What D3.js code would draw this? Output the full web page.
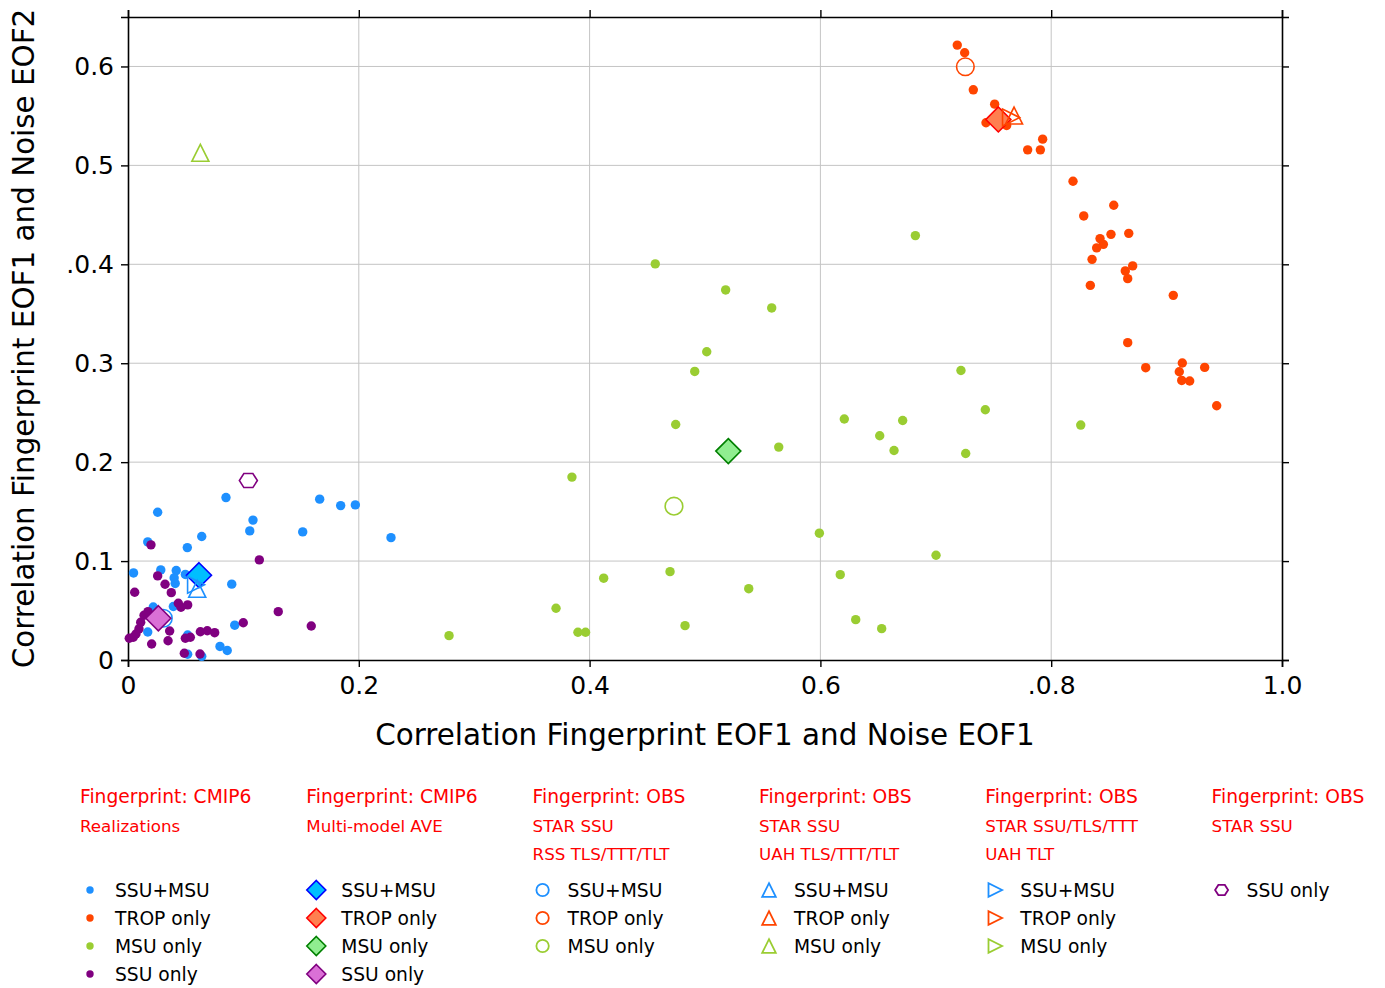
<!DOCTYPE html>
<html>
<head>
<meta charset="utf-8">
<script src="https://cdn.jsdelivr.net/npm/d3@7"></script>
<style>
  html, body { margin: 0; padding: 0; background: #fff; }
  svg { display: block; font-family: "DejaVu Sans", sans-serif; }
</style>
</head>
<body>
<svg id="chart" width="1385" height="988"></svg>
<script>
// ---- data: [x = corr(fingerprint EOF1, noise EOF1), y = corr(fingerprint EOF1, noise EOF2)] ----
const realSsuMsu = [
  [0.0849,0.1642],[0.0257,0.1494],[0.1661,0.1626],[0.1843,0.1561],[0.1970,0.1568],
  [0.1083,0.1414],[0.1055,0.1305],[0.1514,0.1295],[0.2279,0.1237],[0.0639,0.1248],
  [0.0171,0.1194],[0.0514,0.1136],[0.0048,0.0880],[0.0284,0.0911],[0.0418,0.0904],
  [0.0400,0.0830],[0.0409,0.0774],[0.0497,0.0865],[0.0899,0.0767],[0.0393,0.0541],
  [0.0219,0.0536],[0.0171,0.0283],[0.0925,0.0352],[0.0517,0.0253],[0.0797,0.0137],
  [0.0860,0.0096],[0.0517,0.0058],[0.0639,0.0037]
];
const realTrop = [
  [0.7186,0.6216],[0.7250,0.6139],[0.7325,0.5764],[0.7510,0.5619],[0.7435,0.5431],
  [0.7614,0.5403],[0.7926,0.5265],[0.7796,0.5157],[0.7906,0.5157],[0.8189,0.4840],
  [0.8542,0.4597],[0.8282,0.4489],[0.8423,0.4260],[0.8518,0.4303],[0.8672,0.4313],
  [0.8452,0.4202],[0.8394,0.4166],[0.8354,0.4050],[0.8706,0.3984],[0.8642,0.3933],
  [0.8663,0.3855],[0.8339,0.3787],[0.9058,0.3686],[0.8663,0.3208],[0.8819,0.2955],
  [0.9136,0.3002],[0.9110,0.2914],[0.9131,0.2826],[0.9200,0.2820],[0.9330,0.2958],
  [0.9434,0.2570]
];
const realMsu = [
  [0.4569,0.4004],[0.5179,0.3741],[0.5578,0.3559],[0.5015,0.3116],[0.4911,0.2917],
  [0.4746,0.2381],[0.5639,0.2152],[0.3847,0.1849],[0.5991,0.1282],[0.4122,0.0827],
  [0.4697,0.0893],[0.5379,0.0721],[0.3709,0.0523],[0.4827,0.0347],[0.3899,0.0281],
  [0.3965,0.0281],[0.2782,0.0246],[0.7002,0.1059],[0.6172,0.0863],[0.6306,0.0408],
  [0.6531,0.0317],[0.6823,0.4290],[0.7218,0.2927],[0.7429,0.2530],[0.6207,0.2436],
  [0.6713,0.2421],[0.6514,0.2267],[0.6638,0.2118],[0.7259,0.2087],[0.8256,0.2375]
];
const realSsu = [
  [0.1138,0.1012],[0.0199,0.1164],[0.0257,0.0850],[0.0321,0.0766],[0.0375,0.0681],
  [0.0058,0.0685],[0.0436,0.0574],[0.0459,0.0533],[0.0517,0.0557],[0.0173,0.0489],
  [0.0139,0.0452],[0.0110,0.0381],[0.0095,0.0314],[0.0069,0.0263],[0.0046,0.0230],
  [0.0011,0.0220],[0.0361,0.0293],[0.0347,0.0195],[0.0205,0.0162],[0.0627,0.0286],
  [0.0687,0.0296],[0.0751,0.0276],[0.0497,0.0220],[0.0540,0.0230],[0.0488,0.0068],
  [0.0624,0.0061],[0.0999,0.0377],[0.1302,0.0489],[0.1588,0.0344]
];
// multi-model average fingerprint
const mmaSsuMsu = [0.0615,0.0857];
const mmaTrop   = [0.7542,0.5464];
const mmaMsu    = [0.5202,0.2112];
const mmaSsu    = [0.0263,0.0422];
// observational fingerprints
const rssSsuMsu = [0.0306,0.0422];
const rssTrop   = [0.7256,0.5997];
const rssMsu    = [0.4731,0.1555];
const uahSsuMsu = [0.0600,0.0720];
const uahTrop   = [0.7678,0.5504];
const uahMsu    = [0.0627,0.5127];
const starSsuMsu = [0.0590,0.0760];
const starTrop   = [0.7652,0.5484];
const starSsu    = [0.1043,0.1814];

const xTicks = [0, 0.2, 0.4, 0.6, 0.8, 1.0];
const xTickLabels = ["0", "0.2", "0.4", "0.6", ".0.8", "1.0"];
const yTicks = [0, 0.1, 0.2, 0.3, 0.4, 0.5, 0.6];
const yTickLabels = ["0", "0.1", "0.2", "0.3", ".0.4", "0.5", "0.6"];

const legendTitles = ["Fingerprint: CMIP6", "Fingerprint: CMIP6", "Fingerprint: OBS",
                      "Fingerprint: OBS", "Fingerprint: OBS", "Fingerprint: OBS"];
const legendSubs = [["Realizations"], ["Multi-model AVE"], ["STAR SSU", "RSS TLS/TTT/TLT"],
                    ["STAR SSU", "UAH TLS/TTT/TLT"], ["STAR SSU/TLS/TTT", "UAH TLT"], ["STAR SSU"]];
const legendItems = [
  ["SSU+MSU", "TROP only", "MSU only", "SSU only"],
  ["SSU+MSU", "TROP only", "MSU only", "SSU only"],
  ["SSU+MSU", "TROP only", "MSU only"],
  ["SSU+MSU", "TROP only", "MSU only"],
  ["SSU+MSU", "TROP only", "MSU only"],
  ["SSU only"]
];

// ---- styles ----
const C = { blue: "#1e90ff", orange: "#ff4500", green: "#9acd32", purple: "#800080" };
const dotColors = [C.blue, C.orange, C.green, C.purple];
const diaFill = ["#00bfff", "#ff7f50", "#90ee90", "#da70d6"];
const diaEdge = ["#0000ff", "#ff0000", "#008000", "#800080"];
const obsColors = [C.blue, C.orange, C.green];

// marker path generators (r = half extent)
const shapes = {
  diamond: r => `M0,${-r}L${r},0L0,${r}L${-r},0Z`,
  triUp: r => `M0,${-r}L${r},${r}L${-r},${r}Z`,
  triRight: r => `M${r},0L${-r},${-r}L${-r},${r}Z`,
  hexagon: r => {
    const p = d3.path();
    for (let i = 0; i < 6; i++) {
      const a = i * Math.PI / 3;
      const x = r * Math.cos(a), y = r * Math.sin(a) * 0.9;
      i === 0 ? p.moveTo(x, y) : p.lineTo(x, y);
    }
    p.closePath();
    return p.toString();
  }
};

const svg = d3.select("#chart");
const margin = { left: 128, right: 1385 - 1282, top: 17, bottom: 988 - 660 };
const W = 1385, H = 988;
const x = d3.scaleLinear().domain([0, 1]).range([margin.left, W - margin.right]);
const y = d3.scaleLinear().domain([0, 0.65]).range([H - margin.bottom, margin.top]);

// grid
const grid = svg.append("g");
grid.selectAll("line.gx").data(xTicks.slice(1, -1)).join("line")
  .attr("x1", d => x(d)).attr("x2", d => x(d)).attr("y1", y(0)).attr("y2", y(0.65))
  .attr("stroke", "#c4c4c4").attr("stroke-width", 1);
grid.selectAll("line.gy").data(yTicks.slice(1)).join("line")
  .attr("y1", d => y(d)).attr("y2", d => y(d)).attr("x1", x(0)).attr("x2", x(1))
  .attr("stroke", "#c4c4c4").attr("stroke-width", 1);

// axes (all four sides, outward ticks)
const fmtX = (d, i) => xTickLabels[i];
const fmtY = (d, i) => yTickLabels[i];
const axB = svg.append("g").attr("transform", `translate(0,${y(0)})`)
  .call(d3.axisBottom(x).tickValues(xTicks).tickFormat(fmtX).tickSize(7).tickPadding(6));
const axL = svg.append("g").attr("transform", `translate(${x(0)},0)`)
  .call(d3.axisLeft(y).tickValues(yTicks).tickFormat(fmtY).tickSize(7).tickPadding(6));
const axT = svg.append("g").attr("transform", `translate(0,${y(0.65)})`)
  .call(d3.axisTop(x).tickValues(xTicks).tickFormat("").tickSize(7));
const axR = svg.append("g").attr("transform", `translate(${x(1)},0)`)
  .call(d3.axisRight(y).tickValues(yTicks).tickFormat("").tickSize(7));
[axB, axL, axT, axR].forEach(g => {
  g.select(".domain").attr("stroke", "#000").attr("stroke-width", 1.6);
  g.selectAll(".tick line").attr("stroke", "#000").attr("stroke-width", 1.4);
  g.selectAll(".tick text").attr("fill", "#000").style("font-size", "25px")
    .style("font-family", "'DejaVu Sans', sans-serif");
});
axB.selectAll(".tick text").attr("dy", "0.85em");
axL.selectAll(".tick text").attr("dx", "-1px");

// axis titles
svg.append("text").attr("x", x(0.5)).attr("y", 745).attr("text-anchor", "middle")
  .style("font-size", "29.4px").text("Correlation Fingerprint EOF1 and Noise EOF1");
svg.append("text").attr("transform", `translate(34,${(y(0) + y(0.65)) / 2}) rotate(-90)`)
  .attr("text-anchor", "middle").style("font-size", "29.4px")
  .text("Correlation Fingerprint EOF1 and Noise EOF2");

// plot layer
const plot = svg.append("g");
[realSsuMsu, realTrop, realMsu, realSsu].forEach((set, i) => {
  plot.append("g").selectAll("circle").data(set).join("circle")
    .attr("cx", d => x(d[0])).attr("cy", d => y(d[1])).attr("r", 4.7)
    .attr("fill", dotColors[i]);
});
// RSS: open circles
[rssSsuMsu, rssTrop, rssMsu].forEach((d, i) => {
  plot.append("circle").attr("cx", x(d[0])).attr("cy", y(d[1])).attr("r", 8.8)
    .attr("fill", "none").attr("stroke", obsColors[i]).attr("stroke-width", 1.6);
});
// multi-model average: diamonds
[mmaSsuMsu, mmaTrop, mmaMsu, mmaSsu].forEach((d, i) => {
  plot.append("path").attr("d", shapes.diamond(12.5))
    .attr("transform", `translate(${x(d[0])},${y(d[1])})`)
    .attr("fill", diaFill[i]).attr("stroke", diaEdge[i]).attr("stroke-width", 1.6);
});
// UAH: triangles up
[uahSsuMsu, uahTrop, uahMsu].forEach((d, i) => {
  plot.append("path").attr("d", shapes.triUp(8.5))
    .attr("transform", `translate(${x(d[0])},${y(d[1])})`)
    .attr("fill", "none").attr("stroke", obsColors[i]).attr("stroke-width", 1.6);
});
// STAR/UAH TLT: triangles right
[starSsuMsu, starTrop].forEach((d, i) => {
  plot.append("path").attr("d", shapes.triRight(8.5))
    .attr("transform", `translate(${x(d[0])},${y(d[1])})`)
    .attr("fill", "none").attr("stroke", obsColors[i]).attr("stroke-width", 1.6);
});
// STAR SSU only: hexagon
plot.append("path").attr("d", shapes.hexagon(9))
  .attr("transform", `translate(${x(starSsu[0])},${y(starSsu[1])})`)
  .attr("fill", "none").attr("stroke", C.purple).attr("stroke-width", 1.6);

// ---- legend ----
const colX = [80, 306.3, 532.6, 759, 985.3, 1211.6];
const rowY = [890, 918, 946, 974];
const leg = svg.append("g");
colX.forEach((cx, c) => {
  leg.append("text").attr("x", cx).attr("y", 803).attr("fill", "#ff0000")
    .style("font-size", "18.7px").text(legendTitles[c]);
  legendSubs[c].forEach((s, k) => {
    leg.append("text").attr("x", cx).attr("y", 832 + k * 28.2).attr("fill", "#ff0000")
      .style("font-size", "16.7px").text(s);
  });
  legendItems[c].forEach((label, r) => {
    const mx = cx + 10, my = rowY[r];
    if (c === 0) {
      leg.append("circle").attr("cx", mx).attr("cy", my).attr("r", 3.7).attr("fill", dotColors[r]);
    } else if (c === 1) {
      leg.append("path").attr("d", shapes.diamond(9.5)).attr("transform", `translate(${mx},${my})`)
        .attr("fill", diaFill[r]).attr("stroke", diaEdge[r]).attr("stroke-width", 1.6);
    } else if (c === 2) {
      leg.append("circle").attr("cx", mx).attr("cy", my).attr("r", 6.2)
        .attr("fill", "none").attr("stroke", obsColors[r]).attr("stroke-width", 1.8);
    } else if (c === 3) {
      leg.append("path").attr("d", shapes.triUp(6.8)).attr("transform", `translate(${mx},${my})`)
        .attr("fill", "none").attr("stroke", obsColors[r]).attr("stroke-width", 1.8);
    } else if (c === 4) {
      leg.append("path").attr("d", shapes.triRight(6.8)).attr("transform", `translate(${mx},${my})`)
        .attr("fill", "none").attr("stroke", obsColors[r]).attr("stroke-width", 1.8);
    } else {
      leg.append("path").attr("d", shapes.hexagon(6.5)).attr("transform", `translate(${mx},${my})`)
        .attr("fill", "none").attr("stroke", C.purple).attr("stroke-width", 1.8);
    }
    leg.append("text").attr("x", cx + 35).attr("y", my + 7).attr("fill", "#000")
      .style("font-size", "18.7px").text(label);
  });
});
</script>
</body>
</html>
